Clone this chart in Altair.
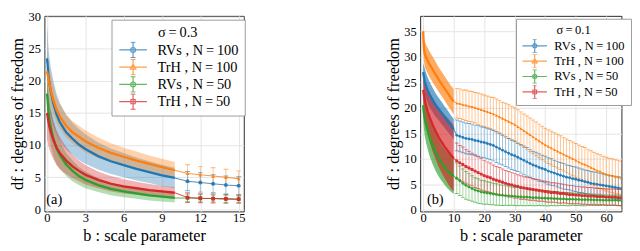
import altair as alt
import pandas as pd

SERIF = "Liberation Serif, Times New Roman, serif"
SERIES = ["RVs , N\u2009=\u2009100", "TrH , N\u2009=\u2009100", "RVs , N\u2009=\u200950", "TrH , N\u2009=\u200950"]
COLORS = ["#1f77b4", "#ff7f0e", "#2ca02c", "#d62728"]
SHAPES = ["circle", "triangle-up", "circle", "square"]

# ---------------- panel (a): sigma = 0.3 ----------------
a_dense_x = [0, 0.05, 0.1, 0.2, 0.3, 0.5, 0.75, 1, 1.5, 2, 2.5, 3, 4, 5, 6, 7, 8, 9, 10]
a_blue_m = [23.5, 22.5, 21, 19.5, 18.3, 16.5, 14.8, 13.6, 12, 11, 10.1, 9.4, 8.3, 7.5, 6.9, 6.3, 5.8, 5.3, 4.9]
a_blue_e = [5, 5, 4.5, 4, 3.8, 3.5, 3.2, 3, 2.7, 2.5, 2.4, 2.3, 2.1, 2.0, 1.9, 1.8, 1.7, 1.65, 1.6]
a_orng_m = [21.5, 21, 20.5, 19.5, 18.5, 17, 15.5, 14.5, 13, 12, 11.3, 10.6, 9.6, 8.8, 8.2, 7.6, 7.1, 6.6, 6.1]
a_orng_e = [3, 3, 2.8, 2.6, 2.4, 2.2, 2.0, 1.9, 1.8, 1.7, 1.7, 1.7, 1.6, 1.5, 1.4, 1.4, 1.3, 1.3, 1.3]
a_gren_m = [18, 17, 15.5, 14, 12.8, 11, 9.5, 8.5, 7, 6, 5.2, 4.6, 3.8, 3.2, 2.8, 2.5, 2.2, 2.0, 1.8]
a_gren_e = [2, 2.5, 2.8, 3, 3, 2.8, 2.5, 2.2, 1.8, 1.6, 1.4, 1.3, 1.1, 1.0, 0.9, 0.85, 0.8, 0.75, 0.7]
a_red_m = [15, 14.5, 13.8, 12.8, 12, 10.8, 9.6, 8.8, 7.6, 6.7, 6.0, 5.4, 4.6, 4.0, 3.6, 3.3, 3.0, 2.8, 2.6]
a_red_e = [4, 4, 3.8, 3.5, 3.3, 3, 2.7, 2.5, 2.1, 1.8, 1.6, 1.5, 1.3, 1.2, 1.1, 1.0, 0.95, 0.9, 0.85]

a_sparse_x = [11, 12, 13, 14, 15]
a_blue_sm = [4.4, 4.2, 4.0, 3.8, 3.7]
a_blue_se = [1.5, 1.5, 1.4, 1.4, 1.4]
a_orng_sm = [5.6, 5.4, 5.2, 5.0, 4.8]
a_orng_se = [1.35, 1.3, 1.3, 1.25, 1.2]
a_gren_sm = [1.8, 1.75, 1.7, 1.65, 1.6]
a_gren_se = [0.6, 0.6, 0.55, 0.55, 0.5]
a_red_sm = [1.85, 1.75, 1.7, 1.65, 1.6]
a_red_se = [0.75, 0.7, 0.7, 0.7, 0.65]

# ---------------- panel (b): sigma = 0.1 ----------------
b_dense_x = [0, 0.1, 0.25, 0.5, 1, 1.5, 2, 3, 4, 5, 6, 7, 8, 9, 10]
b_orng_m = [35, 33, 31.5, 30.5, 29.8, 29.2, 28.6, 27.6, 26.6, 25.6, 24.7, 23.8, 22.9, 22.0, 21.2]
b_orng_e = [1.2, 2, 2.5, 2.5, 2.5, 2.5, 2.5, 2.5, 2.5, 2.4, 2.4, 2.4, 2.4, 2.4, 2.5]
b_blue_m = [27, 26.5, 26, 25.2, 24.2, 23.4, 22.7, 21.6, 20.6, 19.8, 19.0, 18.2, 17.4, 16.6, 15.8]
b_blue_e = [1.5, 2, 2.3, 2.5, 2.5, 2.5, 2.5, 2.4, 2.3, 2.2, 2.2, 2.1, 2.1, 2.0, 2.0]
b_red_m = [23.5, 23, 22.5, 21.5, 20.3, 19.2, 18.3, 16.8, 15.5, 14.3, 13.3, 12.4, 11.6, 10.8, 10.1]
b_red_e = [1.5, 2.5, 3, 3.5, 4, 4.5, 4.8, 5.2, 5.5, 5.8, 6, 6.2, 6.4, 6.5, 6.5]
b_gren_m = [20.5, 19.5, 18.8, 17.8, 16.5, 15.4, 14.4, 12.8, 11.4, 10.2, 9.2, 8.4, 7.7, 7.1, 6.6]
b_gren_e = [2, 2.5, 3, 3.3, 3.5, 3.6, 3.7, 3.7, 3.7, 3.6, 3.5, 3.5, 3.5, 3.5, 3.5]

b_sparse_x = list(range(11, 66))
b_orng_sm = [20.9, 20.8, 20.6, 20.5, 20.3, 20.2, 20.0, 19.8, 19.6, 19.4,
             19.2, 19.0, 18.8, 18.5, 18.2, 17.9, 17.6, 17.3, 17.0, 16.7,
             16.3, 15.9, 15.5, 15.1, 14.7, 14.3, 13.9, 13.5, 13.1, 12.7,
             12.4, 12.1, 11.8, 11.5, 11.2, 10.9, 10.6, 10.3, 10.0, 9.7,
             9.4, 9.1, 8.9, 8.6, 8.3, 8.0, 7.7, 7.5, 7.2, 7.0,
             6.8, 6.7, 6.5, 6.4, 6.2]
b_orng_se = [2.9, 2.9, 2.9, 3.0, 3.0, 3.0, 3.0, 3.1, 3.1, 3.1,
             3.1, 3.1, 3.2, 3.2, 3.2, 3.2, 3.3, 3.3, 3.3, 3.3,
             3.3, 3.3, 3.3, 3.3, 3.3, 3.3, 3.3, 3.3, 3.3, 3.3,
             3.3, 3.3, 3.3, 3.3, 3.3, 3.3, 3.3, 3.3, 3.3, 3.3,
             3.3, 3.3, 3.3, 3.3, 3.3, 3.3, 3.3, 3.3, 3.3, 3.3,
             3.3, 3.3, 3.3, 3.3, 3.3]
b_blue_sm = [14.6, 14.4, 14.2, 14.0, 13.9, 13.8, 13.6, 13.5, 13.3, 13.2,
             13.0, 12.8, 12.6, 12.3, 12.0, 11.7, 11.4, 11.1, 10.8, 10.6,
             10.3, 10.0, 9.7, 9.4, 9.1, 8.8, 8.6, 8.3, 8.1, 7.9,
             7.6, 7.4, 7.2, 7.0, 6.8, 6.6, 6.4, 6.3, 6.1, 6.0,
             5.8, 5.7, 5.5, 5.4, 5.2, 5.1, 5.0, 4.9, 4.8, 4.7,
             4.6, 4.5, 4.4, 4.3, 4.2]
b_blue_se = [3.0, 3.0, 3.0, 3.0, 3.0, 3.0, 3.0, 3.0, 3.0, 3.0,
             3.0, 3.0, 3.0, 3.0, 3.0, 2.9, 2.9, 2.9, 2.9, 2.9,
             2.8, 2.8, 2.8, 2.8, 2.7, 2.7, 2.7, 2.7, 2.6, 2.6,
             2.6, 2.6, 2.5, 2.5, 2.5, 2.5, 2.4, 2.4, 2.4, 2.4,
             2.4, 2.3, 2.3, 2.3, 2.3, 2.3, 2.3, 2.2, 2.2, 2.2,
             2.2, 2.2, 2.2, 2.2, 2.2]
b_red_sm = [9.6, 9.2, 8.9, 8.5, 8.2, 7.9, 7.6, 7.3, 7.0, 6.7,
            6.5, 6.3, 6.0, 5.8, 5.6, 5.4, 5.2, 5.0, 4.9, 4.7,
            4.6, 4.4, 4.3, 4.2, 4.1, 4.0, 3.9, 3.8, 3.7, 3.6,
            3.5, 3.4, 3.4, 3.3, 3.2, 3.2, 3.1, 3.0, 3.0, 2.9,
            2.9, 2.8, 2.8, 2.7, 2.7, 2.7, 2.6, 2.6, 2.6, 2.5,
            2.5, 2.5, 2.5, 2.4, 2.4]
b_red_se = [3.5, 3.4, 3.4, 3.3, 3.3, 3.2, 3.2, 3.1, 3.1, 3.0,
            2.9, 2.9, 2.8, 2.7, 2.7, 2.6, 2.5, 2.5, 2.4, 2.4,
            2.3, 2.3, 2.2, 2.2, 2.2, 2.1, 2.1, 2.1, 2.0, 2.0,
            2.0, 1.9, 1.9, 1.9, 1.9, 1.8, 1.8, 1.8, 1.8, 1.7,
            1.7, 1.7, 1.7, 1.7, 1.7, 1.6, 1.6, 1.6, 1.6, 1.6,
            1.6, 1.6, 1.6, 1.6, 1.6]
b_gren_sm = [6.2, 5.7, 5.2, 4.8, 4.5, 4.2, 3.9, 3.7, 3.5, 3.4,
             3.3, 3.2, 3.1, 3.0, 2.9, 2.85, 2.8, 2.75, 2.7, 2.65,
             2.6, 2.55, 2.5, 2.5, 2.45, 2.4, 2.4, 2.35, 2.3, 2.3,
             2.25, 2.25, 2.2, 2.2, 2.15, 2.15, 2.1, 2.1, 2.1, 2.05,
             2.05, 2.0, 2.0, 2.0, 2.0, 1.95, 1.95, 1.95, 1.9, 1.9,
             1.9, 1.9, 1.9, 1.85, 1.85]
b_gren_se = [3.0, 2.9, 2.8, 2.7, 2.6, 2.5, 2.4, 2.4, 2.3, 2.3,
             2.2, 2.2, 2.1, 2.1, 2.0, 2.0, 1.9, 1.9, 1.8, 1.8,
             1.8, 1.7, 1.7, 1.7, 1.6, 1.6, 1.6, 1.5, 1.5, 1.5,
             1.5, 1.4, 1.4, 1.4, 1.3, 1.3, 1.3, 1.3, 1.2, 1.2,
             1.2, 1.2, 1.2, 1.1, 1.1, 1.1, 1.1, 1.1, 1.0, 1.0,
             1.0, 1.0, 1.0, 1.0, 1.0]


def build(xs, means, errs):
    rows = []
    for s, m_list, e_list in zip(SERIES, means, errs):
        for x, m, e in zip(xs, m_list, e_list):
            rows.append({"series": s, "x": x, "mean": m, "lo": max(m - e, 0.05), "hi": m + e})
    return pd.DataFrame(rows)


a_dense = build(a_dense_x, [a_blue_m, a_orng_m, a_gren_m, a_red_m], [a_blue_e, a_orng_e, a_gren_e, a_red_e])
a_sparse = build(a_sparse_x, [a_blue_sm, a_orng_sm, a_gren_sm, a_red_sm], [a_blue_se, a_orng_se, a_gren_se, a_red_se])
b_dense = build(b_dense_x, [b_blue_m, b_orng_m, b_gren_m, b_red_m], [b_blue_e, b_orng_e, b_gren_e, b_red_e])
b_sparse = build(b_sparse_x, [b_blue_sm, b_orng_sm, b_gren_sm, b_red_sm], [b_blue_se, b_orng_se, b_gren_se, b_red_se])

ERRBAR = "M-1.7,0H1.7M0,-0.95V0.95M-0.3,-0.95H0.3M-0.3,0.95H0.3"
LEG_PATHS = [
    ERRBAR + "M-0.3,0A0.3,0.3 0 1,0 0.3,0A0.3,0.3 0 1,0 -0.3,0Z",
    ERRBAR + "M0,-0.38L0.34,0.24L-0.34,0.24Z",
    ERRBAR + "M-0.3,0A0.3,0.3 0 1,0 0.3,0A0.3,0.3 0 1,0 -0.3,0Z",
    ERRBAR + "M-0.26,-0.26H0.26V0.26H-0.26Z",
]


def panel(dense, sparse, xdom, ydom, xticks, yticks, w, h, tag, tag_x, leg_title, leg_x, leg_y,
          leg_font, sym_size, sym_off, lab_off, clip_h, band_op, cap, pt_size):
    xs = alt.Scale(domain=xdom, nice=False, zero=False)
    ys = alt.Scale(domain=ydom, nice=False, zero=False)
    xax = alt.Axis(values=xticks, title="b : scale parameter", titlePadding=3, labelPadding=1)
    yax = alt.Axis(values=yticks, title="df : degrees of freedom", titlePadding=2, labelPadding=4)
    X = alt.X("x:Q", scale=xs, axis=xax)
    col = alt.Color("series:N", scale=alt.Scale(domain=SERIES, range=COLORS), legend=None)

    band = alt.Chart(dense).mark_area(opacity=band_op, clip=True).encode(
        x=X, y=alt.Y("lo:Q", scale=ys, axis=yax), y2="hi:Q", color=col, detail="series:N")
    dline = alt.Chart(dense).mark_line(strokeWidth=2.4, clip=True).encode(
        x=X, y=alt.Y("mean:Q", scale=ys, axis=yax), color=col, detail="series:N")
    last = dense[dense["x"] == dense["x"].max()]
    sline_df = pd.concat([last, sparse], ignore_index=True)
    sline = alt.Chart(sline_df).mark_line(strokeWidth=1.1, opacity=0.8, clip=True).encode(
        x=X, y=alt.Y("mean:Q", scale=ys, axis=yax), color=col, detail="series:N")
    rules = alt.Chart(sparse).mark_rule(strokeWidth=1, opacity=0.45, clip=True).encode(
        x=X, y=alt.Y("lo:Q", scale=ys, axis=yax), y2="hi:Q", color=col)
    cap_lo = alt.Chart(sparse).mark_tick(orient="horizontal", size=cap, thickness=1, opacity=0.6, clip=True).encode(
        x=X, y=alt.Y("lo:Q", scale=ys, axis=yax), color=col)
    cap_hi = alt.Chart(sparse).mark_tick(orient="horizontal", size=cap, thickness=1, opacity=0.6, clip=True).encode(
        x=X, y=alt.Y("hi:Q", scale=ys, axis=yax), color=col)
    pts = []
    for s, shp in zip(SERIES, SHAPES):
        pts.append(alt.Chart(sparse).transform_filter(alt.datum.series == s).mark_point(
            shape=shp, filled=True, size=pt_size, opacity=0.9, clip=True).encode(
            x=X, y=alt.Y("mean:Q", scale=ys, axis=yax), color=col))

    leg = alt.Legend(
        title=leg_title, orient="none", legendX=leg_x, legendY=leg_y,
        titleAnchor="middle", titleAlign="center", titleFont=SERIF, titleFontSize=leg_font,
        titleFontWeight="normal", titleColor="#000", titlePadding=2,
        labelFont=SERIF, labelFontSize=leg_font, labelColor="#000", labelOffset=lab_off,
        symbolSize=sym_size, symbolOffset=sym_off, symbolStrokeWidth=1.2, symbolOpacity=0.75,
        clipHeight=clip_h,
        fillColor="white", strokeColor="#999999", padding=6, rowPadding=1, cornerRadius=0)
    legend_layer = alt.Chart(dense).mark_point(opacity=0, filled=False).encode(
        x=X, y=alt.Y("mean:Q", scale=ys, axis=yax),
        color=alt.Color("series:N", scale=alt.Scale(domain=SERIES, range=COLORS), legend=leg, sort=SERIES),
        shape=alt.Shape("series:N", scale=alt.Scale(domain=SERIES, range=LEG_PATHS), legend=leg, sort=SERIES))

    label = alt.Chart(pd.DataFrame({"t": [tag]})).mark_text(
        font=SERIF, fontSize=15, align="left", baseline="middle", color="#000").encode(
        text="t:N", x=alt.value(tag_x), y=alt.value(h - 13))

    return alt.layer(band, rules, cap_lo, cap_hi, dline, sline, *pts, legend_layer, label).resolve_scale(
        color="independent", shape="independent").properties(width=w, height=h)


pa = panel(a_dense, a_sparse, [-0.2, 15.4], [-0.3, 30.1], [0, 3, 6, 9, 12, 15], [0, 5, 10, 15, 20, 25, 30],
           208, 204, "(a)", 2, "\u03c3\u2009=\u20090.3", 70, 4, 15, 289, 7, 16, 17, 0.35, 5, 16)
pb = panel(b_dense, b_sparse, [-1, 65], [-0.3, 38], [0, 10, 20, 30, 40, 50, 60], [0, 5, 10, 15, 20, 25, 30, 35],
           210, 204, "(b)", 7, "\u03c3\u2009=\u20090.1", 100, 3, 13, 225, 5, 12, 14.5, 0.65, 4, 9)

chart = alt.hconcat(pa, pb, spacing=144).resolve_scale(color="independent", shape="independent").resolve_legend(
    color="independent", shape="independent").properties(
    padding={"left": 0, "top": -3, "right": 0, "bottom": 0}
).configure_view(stroke="#222222", strokeWidth=1).configure_axis(
    labelFont=SERIF, labelFontSize=13, labelColor="#000", titleFont=SERIF, titleFontSize=17,
    titleFontWeight="normal", titleColor="#000", grid=True, gridColor="#e4e4e4", gridWidth=1,
    domain=False, ticks=False)

chart.save("out.html", embed_options={"renderer": "svg", "actions": False})
